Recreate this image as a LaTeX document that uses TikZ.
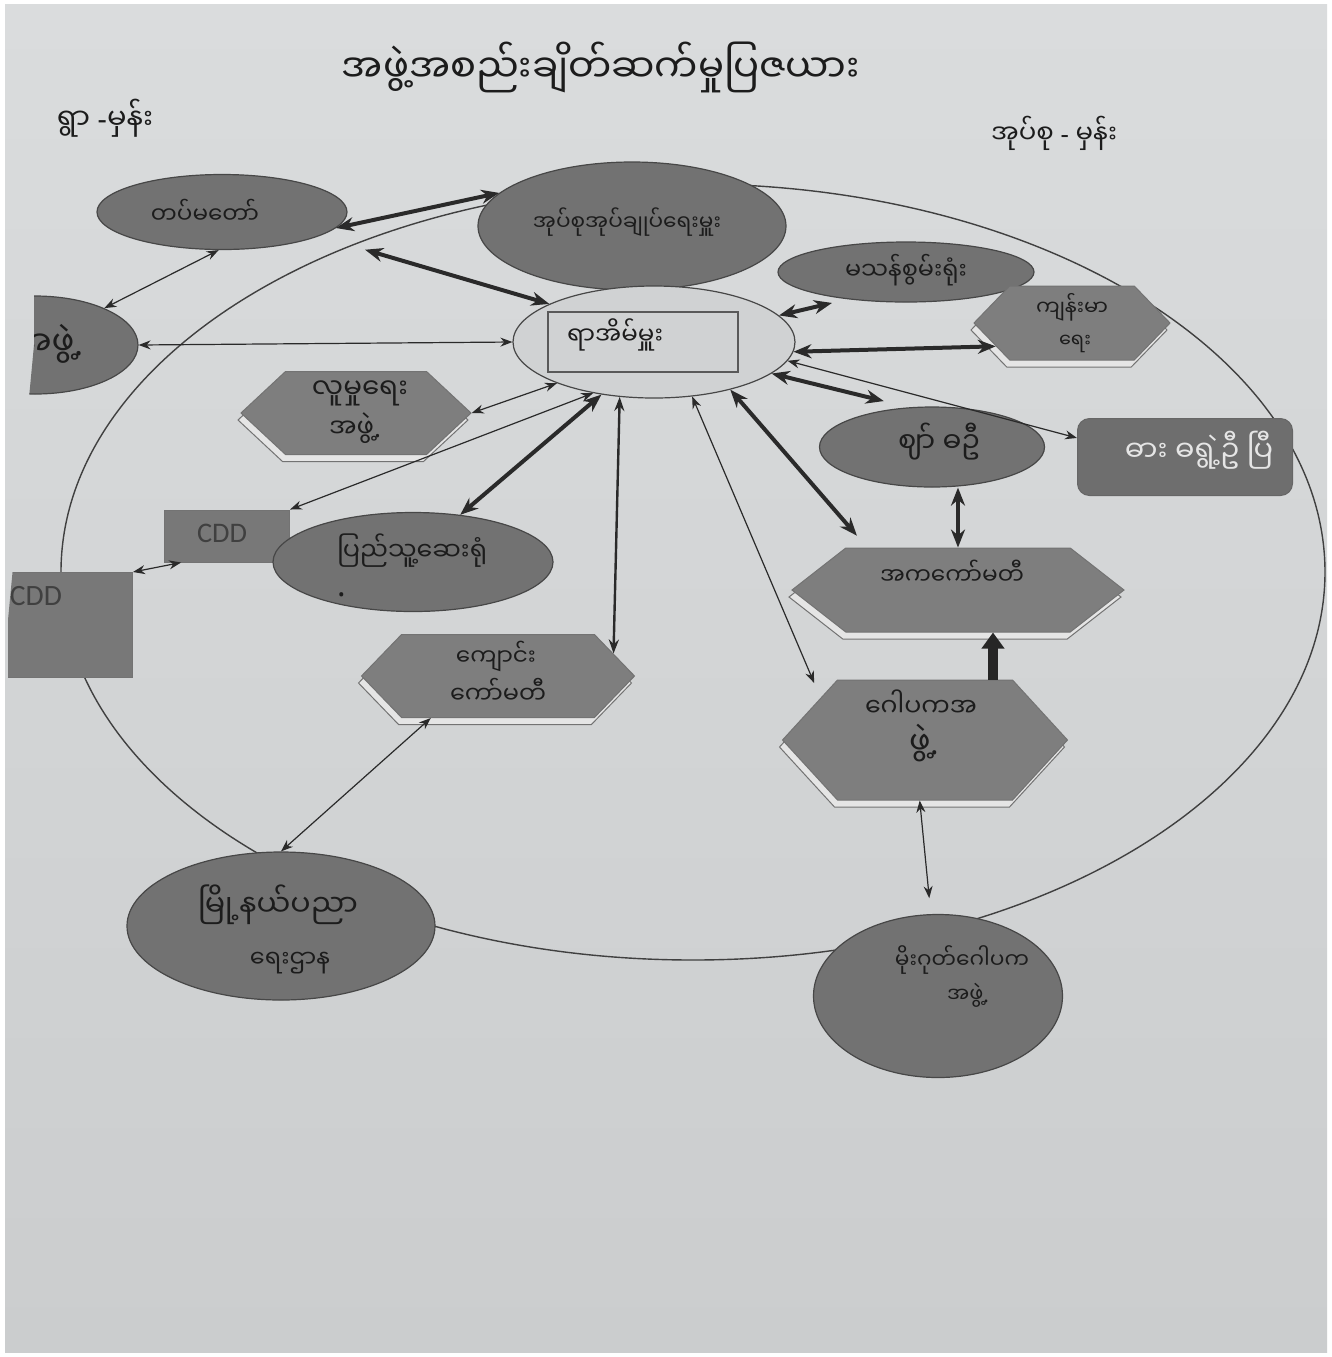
\documentclass[tikz,border=0pt]{standalone}
\usepackage{fontspec}
\usepackage{graphicx}
\usetikzlibrary{shapes.geometric,shapes.symbols,arrows.meta,shadows,calc}
\newfontfamily\my[Script=Myanmar]{Noto Sans Myanmar UI}
\newfontfamily\cddfont{Carlito}
\newfontfamily\latf{Noto Sans}
\newcommand\fitw[2]{\resizebox{#1}{!}{\my #2}}
\newcommand\fitl[2]{\resizebox{#1}{!}{\cddfont #2}}
\newcommand\pt{{\latf .}}
\newcommand\hy{{\latf -}}
\definecolor{paperTop}{HTML}{DADCDD}
\definecolor{paperBot}{HTML}{CBCDCE}
\definecolor{ellfill}{HTML}{727272}
\definecolor{hexfill}{HTML}{7E7E7E}
\definecolor{boxfill}{HTML}{787878}
\definecolor{cenfill}{HTML}{D0D2D3}
\definecolor{txtcol}{HTML}{1C1C1C}
\definecolor{linecol}{HTML}{2A2A2A}
\tikzset{
  ell/.style={ellipse, draw=black!72, fill=ellfill, inner sep=0pt, line width=0.6pt},
  hexa/.style={signal, signal to=east and west, draw=black!55, fill=hexfill, inner sep=0pt, line width=0.5pt,
     drop shadow={shadow xshift=-1.5pt, shadow yshift=-3.5pt, fill=white!90!black, draw=black!55, opacity=1}},
  boxn/.style={rectangle, draw=black!55, fill=boxfill, inner sep=0pt, line width=0.5pt},
  txt/.style={inner sep=0pt, text=txtcol},
  thinarr/.style={draw=linecol, line width=0.6pt, {Stealth[length=6pt,width=4.5pt]}-{Stealth[length=6pt,width=4.5pt]}},
  medarr/.style={draw=linecol, line width=1.2pt, {Stealth[length=7pt,width=5pt]}-{Stealth[length=7pt,width=5pt]}},
  thickarr/.style={draw=linecol, line width=2pt, {Stealth[length=9pt,width=7pt]}-{Stealth[length=9pt,width=7pt]}},
  fatarr/.style={draw=black!85, line width=5pt, -{Triangle[length=8pt,width=11pt]}},
}
\begin{document}
\begin{tikzpicture}[x=0.5pt,y=-0.5pt]
\useasboundingbox (0,0) rectangle (1332,1357);
\fill[white] (0,0) rectangle (1332,1357);
\shade[top color=paperTop, bottom color=paperBot] (5,4) rectangle (1327,1352);

% big surrounding circle
\draw[line width=0.7pt, black!75] (693,572) ellipse [x radius=632, y radius=388];

% header texts
\node[txt] (title) at (601,67) {\fitw{259pt}{အဖွဲ့အစည်းချိတ်ဆက်မှုပြဇယား}};
\node[txt] (village) at (105,118) {\fitw{48pt}{ရွာ \hy မှန်း}};
\node[txt] (tract) at (1054,133) {\fitw{63pt}{အုပ်စု \hy\ မှန်း}};

% nodes
\node[ell, minimum width=125pt, minimum height=37.5pt] (tat) at (222,212) {};
\node[txt] (tatT) at (205,211) {\fitw{54pt}{တပ်မတော်}};

\node[ell, minimum width=154pt, minimum height=64pt] (aup) at (632,226) {};
\node[txt] (aupT) at (627,222) {\fitw{94pt}{အုပ်စုအုပ်ချုပ်ရေးမှူး}};

\node[ell, minimum width=128pt, minimum height=30pt] (masan) at (906,272) {};
\node[txt] (masanT) at (906,270) {\fitw{61pt}{မသန်စွမ်းရုံး}};

\node[hexa, minimum width=98pt, minimum height=37pt, signal pointer angle=92] (health) at (1072,323) {};
\node[txt] (healthT1) at (1072,307) {\fitw{36pt}{ကျန်းမာ}};
\node[txt] (healthT2) at (1075,344) {\fitw{16pt}{ရေး}};

\node[ellipse, draw=black!72, fill=cenfill, inner sep=0pt, line width=0.6pt, minimum width=141pt, minimum height=56pt] (cen) at (654,342) {};
\node[rectangle, draw=black!65, line width=0.6pt, minimum width=95pt, minimum height=30pt] (cenR) at (643,342) {};
\node[txt] (cenT) at (615,335) {\fitw{48pt}{ရာအိမ်မှူး}};

\begin{scope}
  \clip (34,150) -- (1332,150) -- (1332,760) -- (8,760) -- (8,620) -- (34,345) -- cycle;
  \node[ell, minimum width=103pt, minimum height=49pt] (leftE) at (35,345) {};
  \node[txt, anchor=east] (leftT) at (84,344) {\fitw{34pt}{အဖွဲ့\pt}};
  \node[boxn, minimum width=62.5pt, minimum height=52.5pt] (cddB) at (70,625) {};
  \node[txt, text=black!75] (cddBT) at (36,596) {\fitl{26pt}{CDD}};
\end{scope}

\node[hexa, minimum width=115pt, minimum height=41.5pt, signal pointer angle=86] (social) at (356,413) {};
\node[txt] (socialT1) at (360,393) {\fitw{48pt}{လူမှုရေး}};
\node[txt] (socialT2) at (355,428) {\fitw{26pt}{အဖွဲ့\pt}};

\node[ell, minimum width=112.5pt, minimum height=40pt] (jha) at (932,447) {};
\node[txt] (jhaT) at (939,442) {\fitw{41pt}{ဈာ် ဓဦ}};

\node[rectangle, rounded corners=6pt, draw=black!60, fill=black!57, line width=0.5pt, minimum width=107.5pt, minimum height=38.5pt] (rr) at (1185,457) {};
\node[txt, text=white!90!black] (rrT) at (1199,450) {\fitw{74pt}{ဓား ဓရွဲ့ဦ ပြီ}};

\node[boxn, minimum width=62.5pt, minimum height=26pt] (cddA) at (227,536) {};
\node[txt, text=black!75] (cddAT) at (222,533) {\fitl{25pt}{CDD}};

\node[ell, minimum width=140pt, minimum height=49.5pt] (hosp) at (413,562) {};
\node[txt] (hospT) at (412,551) {\fitw{75pt}{ပြည်သူ့ဆေးရုံ}};
\node[txt, font=\latf\fontsize{16}{16}\selectfont] (hospDot) at (342,595) {.};

\node[hexa, minimum width=136.5pt, minimum height=41.5pt, signal pointer angle=92] (school) at (498,676) {};
\node[txt] (schoolT1) at (496,656) {\fitw{40pt}{ကျောင်း}};
\node[txt] (schoolT2) at (498,691) {\fitw{48pt}{ကော်မတီ}};

\node[hexa, minimum width=166pt, minimum height=42pt, signal pointer angle=76] (aka) at (958,590) {};
\node[txt] (akaT) at (952,572) {\fitw{72pt}{အကကော်မတီ}};

\node[hexa, minimum width=142.5pt, minimum height=60pt, signal pointer angle=95] (gop) at (925,740) {};
\node[txt] (gopT1) at (921,703) {\fitw{56pt}{ဂေါပကအ}};
\node[txt] (gopT2) at (924,743) {\fitw{15pt}{ဖွဲ့\pt}};

\node[ell, minimum width=154pt, minimum height=74pt] (town) at (281,926) {};
\node[txt] (townT1) at (278,905) {\fitw{80pt}{မြို့နယ်ပညာ}};
\node[txt] (townT2) at (290,963) {\fitw{40pt}{ရေးဌာန}};

\node[ell, minimum width=124.5pt, minimum height=81.5pt] (moe) at (938,996) {};
\node[txt] (moeT1) at (962,960) {\fitw{67pt}{မိုးဂုတ်ဂေါပက}};
\node[txt] (moeT2) at (968,995) {\fitw{21pt}{အဖွဲ့\pt}};

% connectors
\draw[thickarr] (tat.-8) -- (aup.166);
\draw[thickarr, shorten <=24pt] (tat.-14) -- (cen.160);
\draw[thinarr] (tat.-95) -- (leftE.28);
\draw[thinarr] (cen.180) -- (leftE.0);
\draw[thickarr, shorten >=8pt] (cen.12) -- (masan.205);
\draw[thickarr] (cen.-4) -- (health.197);
\draw[thickarr, shorten >=13pt] (cen.-15) -- (jha.120);
\draw[thinarr] (cen.-8) -- (rr.170);
\draw[thickarr, shorten >=8pt] (cen.-32) -- (aka.155);
\draw[thinarr, shorten >=8pt] (cen.-55) -- (gop.158);
\draw[medarr] (cen.-122) -- (school.11);
\draw[thickarr] (cen.-135) -- (hosp.45);
\draw[thinarr] (cen.203) -- (social.east);
\draw[thinarr] (cen.-140) -- (cddA.north east);
\draw[thinarr] (cddA.-150) -- (cddB.north east);
\draw[thickarr] (aka.north |- jha.south) -- (aka.north);
\coordinate (pBot) at ([xshift=34pt]gop.north);
\coordinate (pTop) at ([xshift=17.5pt]aka.south);
\draw[fatarr] (pBot) -- (pTop);
\draw[thinarr, shorten >=8pt] (gop.-95) -- (moe.95);
\draw[thinarr] (school.-148) -- (town.north);
\end{tikzpicture}
\end{document}
